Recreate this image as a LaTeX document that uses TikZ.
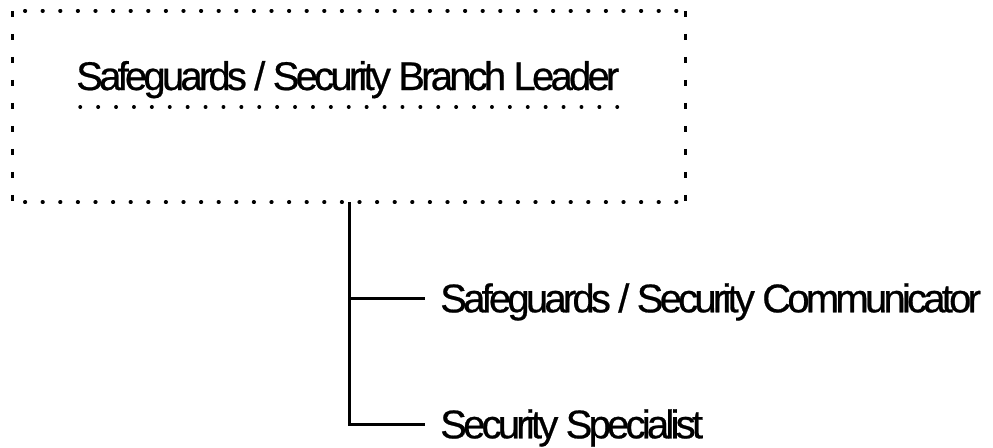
\documentclass[tikz,border=0pt]{standalone}
\usepackage{fontspec}
\newfontfamily\tightsans[LetterSpace=-9.4, FakeBold=0.6]{Liberation Sans}
\tikzset{
  orgtext/.style={font=\tightsans\fontsize{40}{42}\selectfont, inner sep=0pt, text height=28.6pt, text depth=0pt},
  childnode/.style={orgtext, anchor=west, inner xsep=15pt},
  hdots/.style={line width=3.6pt, line cap=round, dash pattern=on 0.6pt off 17pt},
  vdots/.style={line width=3pt, dash pattern=on 6pt off 17pt},
  udots/.style={line width=3.4pt, line cap=round, dash pattern=on 0.5pt off 17.4pt},
  conn/.style={line width=3pt},
  framebox/.style={draw=none, minimum width=672pt, minimum height=191pt, inner sep=0pt}
}
\begin{document}
\begin{tikzpicture}[x=1pt, y=-1pt]
\useasboundingbox[fill=white] (0,0) rectangle (993,447);
\node[framebox] (boss) at (349,106.5) {};
\draw[hdots] ([xshift=12pt]boss.north west) -- (boss.north east);
\draw[hdots] ([xshift=12pt]boss.south west) -- (boss.south east);
\draw[vdots] (boss.north west) -- (boss.south west);
\draw[vdots] (boss.north east) -- (boss.south east);
\node[orgtext, anchor=base west] (title) at (76,90) {Safeguards / Security Branch Leader};
\coordinate (ulstart) at (80,107);
\coordinate (ulend) at (618,107);
\draw[udots] (ulstart) -- (ulend);
\node[childnode] (c1) at (425,298) {Safeguards / Security Communicator};
\node[childnode] (c2) at (425,424) {Security Specialist};
\draw[conn] (boss.south) |- (c2.west);
\draw[conn] (boss.south |- c1.west) -- (c1.west);
\end{tikzpicture}
\end{document}
